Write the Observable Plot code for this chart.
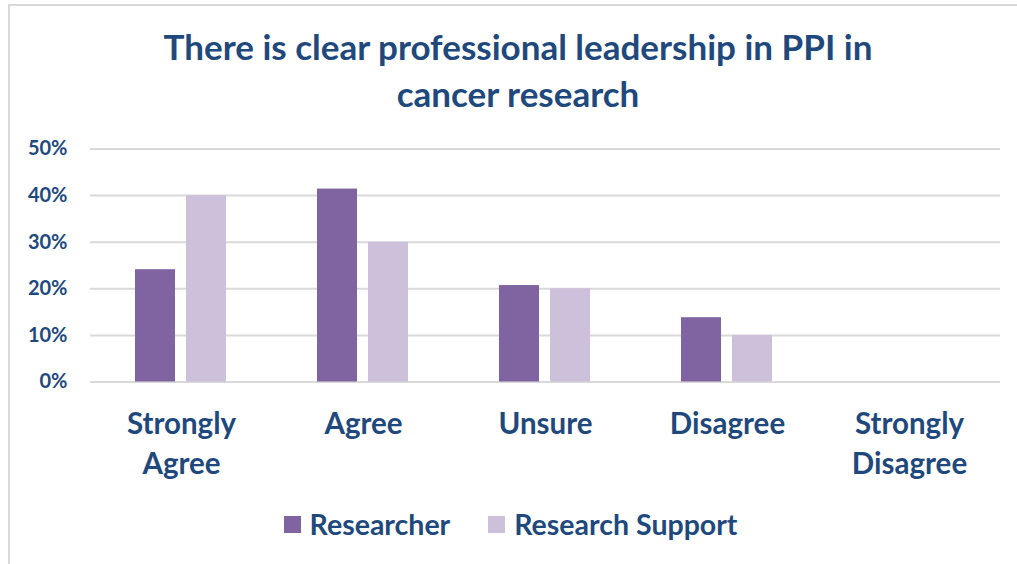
<!DOCTYPE html>
<html>
<head>
<meta charset="utf-8">
<script src="https://cdn.jsdelivr.net/npm/d3@7"></script>
<script src="https://cdn.jsdelivr.net/npm/@observablehq/plot@0.6"></script>
<style>
  html, body { margin: 0; padding: 0; background: #fff; }
  #wrap { position: relative; width: 1017px; height: 564px; overflow: hidden; font-family: Lato, "Open Sans", sans-serif; font-weight: bold; color: #1f497d; }
  #frame { position: absolute; left: 8px; top: 4px; width: 1100px; height: 700px; border-left: 2px solid #d9d9d9; border-top: 2px solid #d9d9d9; }
  #title { position: absolute; left: 8px; width: 1020px; top: 23px; text-align: center; font-size: 35px; line-height: 47px; }
  #chart { position: absolute; left: 0; top: 130px; }
  #legend { position: absolute; left: 0; width: 1021px; top: 507px; height: 34px; display: flex; justify-content: center; align-items: center; font-size: 28.5px; }
  .item { display: flex; align-items: center; }
  .sw { width: 17px; height: 17px; margin-right: 9px; }
  .item + .item { margin-left: 38px; }
</style>
</head>
<body>
<div id="wrap">
  <div id="frame"></div>
  <div id="title">There is clear professional leadership in PPI in<br>cancer research</div>
  <div id="chart"></div>
  <div id="legend"></div>
</div>
<script>
const categories = ["Strongly Agree", "Agree", "Unsure", "Disagree", "Strongly Disagree"];
const categoryLabels = ["Strongly\nAgree", "Agree", "Unsure", "Disagree", "Strongly\nDisagree"];
const seriesNames = ["Researcher", "Research Support"];
const researcherValues = [24.1, 41.4, 20.7, 13.8, 0];
const supportValues = [40, 30, 20, 10, 0];
const yTicks = [0, 10, 20, 30, 40, 50];
const seriesColors = ["#8064a2", "#ccc0da"];

const data = [];
categories.forEach((c, i) => {
  data.push({cat: c, series: seriesNames[0], value: researcherValues[i]});
  data.push({cat: c, series: seriesNames[1], value: supportValues[i]});
});
const labelOf = new Map(categories.map((c, i) => [c, categoryLabels[i]]));

const textColor = "#1f497d";
const chart = Plot.plot({
  width: 1017,
  height: 360,
  marginTop: 18.5,
  marginBottom: 108.5,
  marginLeft: 89,
  marginRight: 17,
  style: {fontFamily: "Lato, 'Open Sans', sans-serif", fontWeight: "bold", color: textColor, background: "transparent"},
  fx: {domain: categories, padding: 0},
  x: {domain: seriesNames, paddingInner: 0.2115, paddingOuter: 0.858, axis: null},
  y: {domain: [0, 50], axis: null},
  color: {domain: seriesNames, range: seriesColors},
  marks: [
    Plot.ruleY(yTicks, {stroke: "#d9d9d9", strokeWidth: 2}),
    Plot.barY(data, {fx: "cat", x: "series", y: "value", fill: "series"}),
    Plot.axisY({ticks: yTicks, tickSize: 0, tickPadding: 23, fontSize: 20, tickFormat: d => d + "%", label: null}),
    Plot.axisFx({anchor: "bottom", tickSize: 0, tickPadding: 23, fontSize: 29.5, lineHeight: 1.36, tickFormat: d => labelOf.get(d), label: null})
  ]
});
document.getElementById("chart").appendChild(chart);

const legend = document.getElementById("legend");
seriesNames.forEach((s, i) => {
  const item = document.createElement("div");
  item.className = "item";
  const sw = document.createElement("div");
  sw.className = "sw";
  sw.style.background = seriesColors[i];
  const t = document.createElement("span");
  t.textContent = s;
  item.appendChild(sw);
  item.appendChild(t);
  legend.appendChild(item);
});
</script>
</body>
</html>
